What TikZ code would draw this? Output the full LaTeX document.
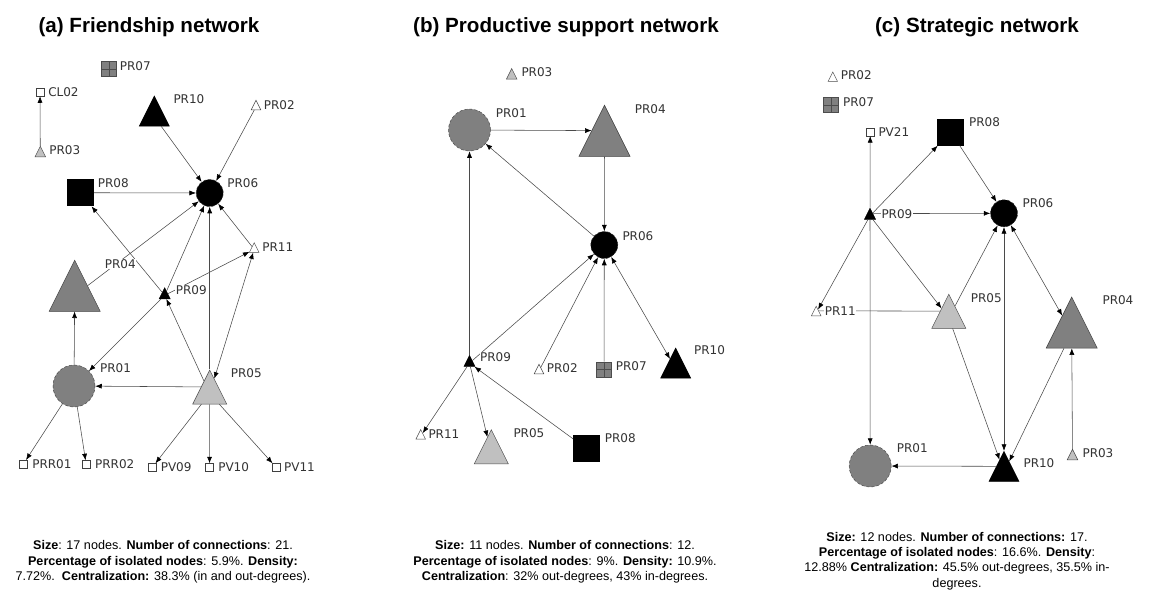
\documentclass[tikz,border=0pt]{standalone}
\usepackage{fontspec}
\setmainfont{Liberation Sans}
\newfontfamily\lblfont{DejaVu Sans}
\usetikzlibrary{shapes.geometric,arrows.meta}

\definecolor{midgray}{HTML}{808080}
\definecolor{litegray}{HTML}{C0C0C0}
\definecolor{edgegray}{HTML}{4A4A4A}

\tikzset{
  >={Latex[length=6.5pt,width=5pt,color=black]},
  lnk/.style={draw=edgegray, line width=0.55pt, ->},
  lnkb/.style={draw=edgegray, line width=0.55pt, <->},
  lnkn/.style={draw=edgegray, line width=0.55pt},
  tri/.style={isosceles triangle, isosceles triangle apex angle=53.13, shape border rotate=90,
    inner sep=0pt, minimum width=#1, minimum height=#1, anchor=lower side, line width=0.5pt},
  bigtri/.style={tri=51pt, fill=midgray, draw=black!75},
  blktri/.style={tri=30pt, fill=black, draw=black},
  ltri/.style={tri=34pt, fill=litegray, draw=black!70},
  wtri/.style={tri=9.5pt, fill=white, draw=black!70},
  gtri/.style={tri=10.5pt, fill=litegray, draw=black!70},
  btri/.style={tri=11pt, fill=black, draw=black},
  bigcirc/.style={circle, minimum size=42pt, inner sep=0pt, fill=midgray, draw=black!70, densely dashed, line width=0.5pt},
  blkcirc/.style={circle, minimum size=27pt, inner sep=0pt, fill=black, draw=black!80, densely dashed, line width=0.5pt},
  blksq/.style={rectangle, minimum size=27pt, inner sep=0pt, fill=black},
  wsq/.style={rectangle, minimum size=8pt, inner sep=0pt, fill=white, draw=black!75, line width=0.5pt},
  gridsq/.style={rectangle, minimum size=15pt, inner sep=0pt, fill=black!50, draw=black!70, line width=0.6pt,
    path picture={\draw[black!70, line width=0.6pt] (path picture bounding box.north) -- (path picture bounding box.south)
      (path picture bounding box.west) -- (path picture bounding box.east);}},
  lbl/.style={font=\lblfont\fontsize{12}{14}\selectfont, text=black!80, fill=white, inner sep=0.6pt, anchor=west},
  ttl/.style={font=\fontsize{20.6}{24}\selectfont\bfseries, anchor=base},
  capbox/.style={font=\fontsize{12.6}{15.3}\selectfont, align=center}
}

\begin{document}
\begin{tikzpicture}[x=1pt, y=-1pt]
  \fill[white] (0,0) rectangle (1153,590);
  \useasboundingbox (0,0) rectangle (1153,590);

  %% titles
  \node[ttl] (ta) at (149,32) {(a) Friendship network};
  \node[ttl] (tb) at (566,32) {(b) Productive support network};
  \node[ttl] (tc) at (977,32) {(c) Strategic network};

  %% friendship network
  \node[gridsq] (a07) at (109,69) {};
  \node[wsq] (acl02) at (40,92) {};
  \node[gtri] (a03) at (40.3,157) {};
  \node[blktri] (a10) at (154.3,126.3) {};
  \node[wtri] (a02) at (256,110) {};
  \node[blkcirc] (a06) at (209.7,193) {};
  \node[blksq] (a08) at (80.3,192.7) {};
  \node[wtri] (a11) at (254.2,252.5) {};
  \node[bigtri] (a04) at (74.7,311.5) {};
  \node[btri] (a09) at (164.7,299) {};
  \node[bigcirc] (a01) at (74,386) {};
  \node[ltri] (a05) at (209.7,404.3) {};
  \node[wsq] (arr01) at (23.3,464.2) {};
  \node[wsq] (arr02) at (86.2,464.5) {};
  \node[wsq] (av09) at (152.2,467.5) {};
  \node[wsq] (av10) at (209.5,467.5) {};
  \node[wsq] (av11) at (276.3,467.5) {};

  \draw[lnk] (a03) -- (acl02);
  \draw[lnk] (a10) -- (a06);
  \draw[lnk] (a02) -- (a06);
  \draw[lnk] (a08) -- (a06);
  \draw[lnk] (a04) -- (a06);
  \draw[lnk] (a09) -- (a06);
  \draw[lnk] (a05) -- (a06);
  \draw[lnk] (a11) -- (a06);
  \draw[lnk] (a09) -- (a08);
  \draw[lnk] (a09) -- (a11);
  \draw[lnkb] (a05) -- (a11);
  \draw[lnk] (a05) -- (a09);
  \draw[lnk] (a09) -- (a01);
  \draw[lnk] (a01) -- (a04);
  \draw[lnk] (a05.left side) -- (a01);
  \draw[lnk] (a01) -- (arr01);
  \draw[lnk] (a01) -- (arr02);
  \draw[lnk] (a05) -- (av09);
  \draw[lnk] (a05) -- (av10);
  \draw[lnk] (a05) -- (av11);

  \node[lbl] (a07l) at (119,66) {PR07};
  \node[lbl] (acl02l) at (47.5,92.3) {CL02};
  \node[lbl] (a10l) at (172.7,99.3) {PR10};
  \node[lbl] (a02l) at (263,105) {PR02};
  \node[lbl] (a03l) at (48.5,150) {PR03};
  \node[lbl] (a08l) at (97,182.7) {PR08};
  \node[lbl] (a06l) at (226.5,182.7) {PR06};
  \node[lbl] (a11l) at (261.5,247.3) {PR11};
  \node[lbl] (a04l) at (104,264) {PR04};
  \node[lbl] (a09l) at (175,290) {PR09};
  \node[lbl] (a01l) at (99.3,368.3) {PR01};
  \node[lbl] (a05l) at (230,372.7) {PR05};
  \node[lbl] (arr01l) at (31.5,464.3) {PRR01};
  \node[lbl] (arr02l) at (94.3,464.3) {PRR02};
  \node[lbl] (av09l) at (160,467.3) {PV09};
  \node[lbl] (av10l) at (217.5,467.3) {PV10};
  \node[lbl] (av11l) at (283.3,467.3) {PV11};

  %% productive support network
  \node[gtri] (b03) at (511.7,79.3) {};
  \node[bigcirc] (b01) at (469.5,130) {};
  \node[bigtri] (b04) at (604.5,156.5) {};
  \node[blkcirc] (b06) at (604.3,245) {};
  \node[btri] (b09) at (469.5,366.7) {};
  \node[wtri] (b02) at (539,374) {};
  \node[gridsq] (b07) at (604,369.5) {};
  \node[blktri] (b10) at (675.7,378.3) {};
  \node[wtri] (b11) at (420.7,439.3) {};
  \node[ltri] (b05) at (491.3,464) {};
  \node[blksq] (b08) at (586.7,448.8) {};

  \draw[lnk] (b01) -- (b04.left side);
  \draw[lnk] (b04) -- (b06);
  \draw[lnk] (b06) -- (b01);
  \draw[lnk] (b09) -- (b01);
  \draw[lnk] (b09) -- (b06);
  \draw[lnk] (b02) -- (b06);
  \draw[lnk] (b07) -- (b06);
  \draw[lnkb] (b06) -- (b10);
  \draw[lnk] (b09) -- (b11);
  \draw[lnk] (b09) -- (b05);
  \draw[lnk] (b08) -- (b09);

  \node[lbl] (b03l) at (520.7,72.3) {PR03};
  \node[lbl] (b01l) at (495,112.7) {PR01};
  \node[lbl] (b04l) at (634,109) {PR04};
  \node[lbl] (b06l) at (621.7,236) {PR06};
  \node[lbl] (b09l) at (479.3,357.3) {PR09};
  \node[lbl] (b02l) at (546,368.3) {PR02};
  \node[lbl] (b07l) at (615,365.7) {PR07};
  \node[lbl] (b10l) at (693.3,350) {PR10};
  \node[lbl] (b11l) at (427.7,434) {PR11};
  \node[lbl] (b05l) at (512.7,432.7) {PR05};
  \node[lbl] (b08l) at (604,438.3) {PR08};

  %% strategic network
  \node[wtri] (c02) at (832.8,81.7) {};
  \node[gridsq] (c07) at (831.2,105.2) {};
  \node[wsq] (cv21) at (870.2,131.8) {};
  \node[blksq] (c08) at (950.8,132) {};
  \node[btri] (c09) at (870,219.5) {};
  \node[blkcirc] (c06) at (1004,213.3) {};
  \node[wtri] (c11) at (816.2,316) {};
  \node[ltri] (c05) at (948.8,328.5) {};
  \node[bigtri] (c04) at (1071.7,348.3) {};
  \node[bigcirc] (c01) at (870.2,466) {};
  \node[blktri] (c10) at (1004,481.7) {};
  \node[gtri] (c03) at (1072.5,460) {};

  \draw[lnk] (c09) -- (cv21);
  \draw[lnk] (c09) -- (c08);
  \draw[lnk] (c08) -- (c06);
  \draw[lnk] (c09.right side) -- (c06);
  \draw[lnk] (c09) -- (c11);
  \draw[lnk] (c09) -- (c01);
  \draw[lnk] (c09) -- (c05);
  \draw[lnk] (c05) -- (c06);
  \draw[lnkb] (c06) -- (c10);
  \draw[lnkb] (c06) -- (c04);
  \draw[lnkn] (c11.right side) -- (c05.left side);
  \draw[lnk] (c05) -- (c10);
  \draw[lnk] (c04) -- (c10);
  \draw[lnk] (c10.left side) -- (c01);
  \draw[lnk] (c03) -- (c04);

  \node[lbl] (c02l) at (840,75.3) {PR02};
  \node[lbl] (c07l) at (842.3,101.7) {PR07};
  \node[lbl] (cv21l) at (877.7,131.7) {PV21};
  \node[lbl] (c08l) at (968.3,122.3) {PR08};
  \node[lbl] (c09l) at (880.7,214) {PR09};
  \node[lbl] (c06l) at (1021.7,203.3) {PR06};
  \node[lbl] (c11l) at (824,311) {PR11};
  \node[lbl] (c05l) at (970,297.7) {PR05};
  \node[lbl] (c04l) at (1101.7,300) {PR04};
  \node[lbl] (c01l) at (896,448.3) {PR01};
  \node[lbl] (c10l) at (1022.7,463.3) {PR10};
  \node[lbl] (c03l) at (1081.7,452.7) {PR03};

  %% captions
  \node[capbox] (ca) at (163,562) {\textbf{Size}: 17 nodes. \textbf{Number of connections}: 21.\\
    \textbf{Percentage of isolated nodes}: 5.9\%. \textbf{Density:}\\
    7.72\%.\ \ \textbf{Centralization:} 38.3\% (in and out-degrees).};
  \node[capbox] (cb) at (565,562) {\textbf{Size:} 11 nodes. \textbf{Number of connections}: 12.\\
    \textbf{Percentage of isolated nodes}: 9\%. \textbf{Density:} 10.9\%.\\
    \textbf{Centralization}: 32\% out-degrees, 43\% in-degrees.};
  \node[capbox] (cc) at (957,561) {\textbf{Size:} 12 nodes. \textbf{Number of connections:} 17.\\
    \textbf{Percentage of isolated nodes}: 16.6\%. \textbf{Density}:\\
    12.88\% \textbf{Centralization:} 45.5\% out-degrees, 35.5\% in-\\
    degrees.};
\end{tikzpicture}
\end{document}
